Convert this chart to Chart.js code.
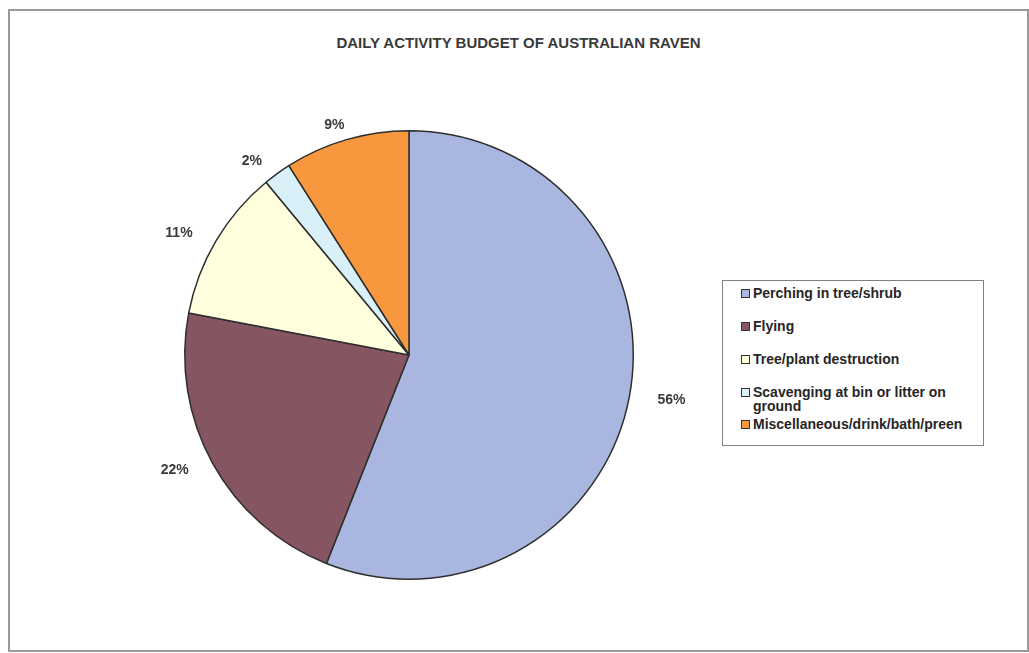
<!DOCTYPE html>
<html><head><meta charset="utf-8">
<script src="https://cdn.jsdelivr.net/npm/chart.js@4/dist/chart.umd.min.js"></script>
<style>
html,body{margin:0;padding:0;background:#fff;width:1029px;height:653px;overflow:hidden;font-family:"Liberation Sans",Arial,sans-serif;}
#frame{position:absolute;left:8px;top:9px;width:1017px;height:639px;border:2px solid #9a9a9a;}
#title{position:absolute;left:8px;width:1021px;top:34px;text-align:center;font-weight:bold;font-size:15px;color:#3a3a3a;}
#wrap{position:absolute;left:0;top:0;width:1029px;height:653px;}
#legend{position:absolute;left:722px;top:280px;width:262px;height:166px;border:1px solid #808080;box-sizing:border-box;background:#fff;}
.li{position:absolute;left:18px;font-weight:bold;font-size:14px;color:#262626;line-height:14px;}
.sw{position:absolute;left:0;top:3px;width:7px;height:7px;border:1px solid #333;}
.tx{position:absolute;left:12px;top:0;white-space:nowrap;}
</style></head>
<body>
<div id="frame"></div>
<div id="title"></div>
<div id="wrap"><canvas id="c" width="1029" height="653"></canvas></div>
<div id="legend"></div>
<script>
const chartTitle = "DAILY ACTIVITY BUDGET OF AUSTRALIAN RAVEN";
const categories = ["Perching in tree/shrub","Flying","Tree/plant destruction","Scavenging at bin or litter on ground","Miscellaneous/drink/bath/preen"];
const legendLines = [["Perching in tree/shrub"],["Flying"],["Tree/plant destruction"],["Scavenging at bin or litter on","ground"],["Miscellaneous/drink/bath/preen"]];
const values = [56, 22, 11, 2, 9];
const sliceLabels = ["56%","22%","11%","2%","9%"];
const colors = ["#a9b7e0","#865562","#ffffde","#daf0f8","#f7983f"];
const legendTops = [5, 38, 71, 104, 136];

document.getElementById('title').textContent = chartTitle;
const lg = document.getElementById('legend');
legendLines.forEach((lines,i)=>{
  const d = document.createElement('div');
  d.className='li'; d.style.top = legendTops[i]+'px';
  const s = document.createElement('div'); s.className='sw'; s.style.background = colors[i];
  const t = document.createElement('div'); t.className='tx'; t.innerHTML = lines.join('<br>');
  d.appendChild(s); d.appendChild(t); lg.appendChild(d);
});

const cx = 409, cy = 355, R = 225;
const outLabels = {
  id:'outLabels',
  afterDatasetsDraw(chart){
    const ctx = chart.ctx;
    const meta = chart.getDatasetMeta(0);
    ctx.save();
    ctx.font = 'bold 14px "Liberation Sans", Arial, sans-serif';
    ctx.fillStyle = '#3a3a3a';
    ctx.textAlign = 'center';
    ctx.textBaseline = 'middle';
    meta.data.forEach((arc,i)=>{
      const p = arc.getProps(['x','y','startAngle','endAngle','outerRadius'], true);
      const a = (p.startAngle + p.endAngle)/2;
      const rx = p.outerRadius + 43, ry = p.outerRadius + 15;
      ctx.fillText(sliceLabels[i], p.x + Math.cos(a)*rx, p.y + Math.sin(a)*ry);
    });
    ctx.restore();
  }
};

new Chart(document.getElementById('c'), {
  type:'pie',
  data:{labels:categories, datasets:[{data:values, backgroundColor:colors, borderColor:'#2e2e2e', borderWidth:1.5}]},
  options:{
    responsive:false, animation:false, events:[],
    layout:{padding:{left:cx-R, top:cy-R, right:1029-cx-R, bottom:653-cy-R}},
    plugins:{legend:{display:false}, tooltip:{enabled:false}, title:{display:false}}
  },
  plugins:[outLabels]
});
</script>
</body></html>
